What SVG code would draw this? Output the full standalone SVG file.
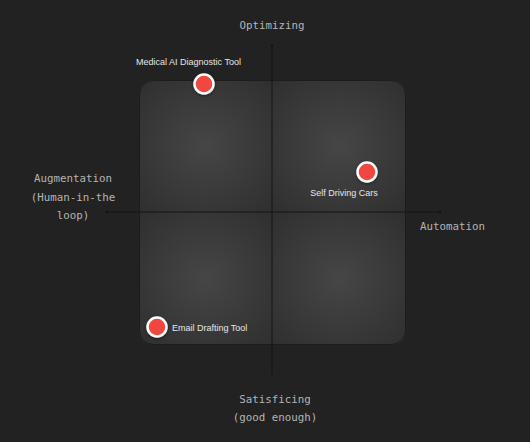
<svg xmlns="http://www.w3.org/2000/svg" width="530" height="442" viewBox="0 0 530 442">
<defs>
<style>
.ax{font-family:"DejaVu Sans Mono","Liberation Mono",monospace;font-size:10.8px;fill:#b4b4b4;}
.lb{font-family:"Liberation Sans",Arial,sans-serif;font-size:9px;fill:#e6e6e6;}
.dot{fill:#f2463f;stroke:#ffffff;stroke-width:2.5;filter:url(#sh);}
.axis{stroke:#141414;stroke-width:1;}
</style>
<radialGradient id="q" cx="0.5" cy="0.5" r="0.7">
<stop offset="0" stop-color="#464646"/>
<stop offset="1" stop-color="#2f2f2f"/>
</radialGradient>
<clipPath id="box"><rect x="139" y="80" width="267" height="265" rx="14"/></clipPath>
<filter id="sh" x="-50%" y="-50%" width="200%" height="200%">
<feDropShadow dx="0" dy="1" stdDeviation="1.5" flood-color="#000" flood-opacity="0.5"/>
</filter>
</defs>
<rect width="530" height="442" fill="#222222"/>
<g id="matrix">
<g clip-path="url(#box)">
<rect x="139" y="80" width="133" height="132" fill="url(#q)"/>
<rect x="272" y="80" width="134" height="132" fill="url(#q)"/>
<rect x="139" y="212" width="133" height="133" fill="url(#q)"/>
<rect x="272" y="212" width="134" height="133" fill="url(#q)"/>
</g>
<rect x="139.5" y="80.5" width="266" height="264" rx="14" fill="none" stroke="#1c1c1c" stroke-width="1"/>
</g>
<g id="axes">
<line class="axis" x1="272" y1="45" x2="272" y2="375"/>
<line class="axis" x1="107" y1="212" x2="440" y2="212"/>
<circle cx="272" cy="45" r="1.2" fill="#141414"/>
<circle cx="107" cy="212" r="1.2" fill="#141414"/>
<circle cx="440" cy="212" r="1.2" fill="#141414"/>
</g>
<g id="axis-labels">
<text class="ax" x="272" y="29" text-anchor="middle">Optimizing</text>
<text class="ax" x="73" y="182" text-anchor="middle">Augmentation</text>
<text class="ax" x="73" y="201" text-anchor="middle">(Human-in-the</text>
<text class="ax" x="73" y="219" text-anchor="middle">loop)</text>
<text class="ax" x="420" y="230">Automation</text>
<text class="ax" x="275" y="403" text-anchor="middle">Satisficing</text>
<text class="ax" x="275" y="421" text-anchor="middle">(good enough)</text>
</g>
<g id="medical">
<circle class="dot" cx="204" cy="84" r="9.5"/>
<text class="lb" x="188.5" y="65" text-anchor="middle">Medical AI Diagnostic Tool</text>
</g>
<g id="selfdriving">
<circle class="dot" cx="367" cy="172" r="9.5"/>
<text class="lb" x="344" y="196" text-anchor="middle">Self Driving Cars</text>
</g>
<g id="email">
<circle class="dot" cx="157" cy="327" r="9.5"/>
<text class="lb" x="172" y="331">Email Drafting Tool</text>
</g>
</svg>
